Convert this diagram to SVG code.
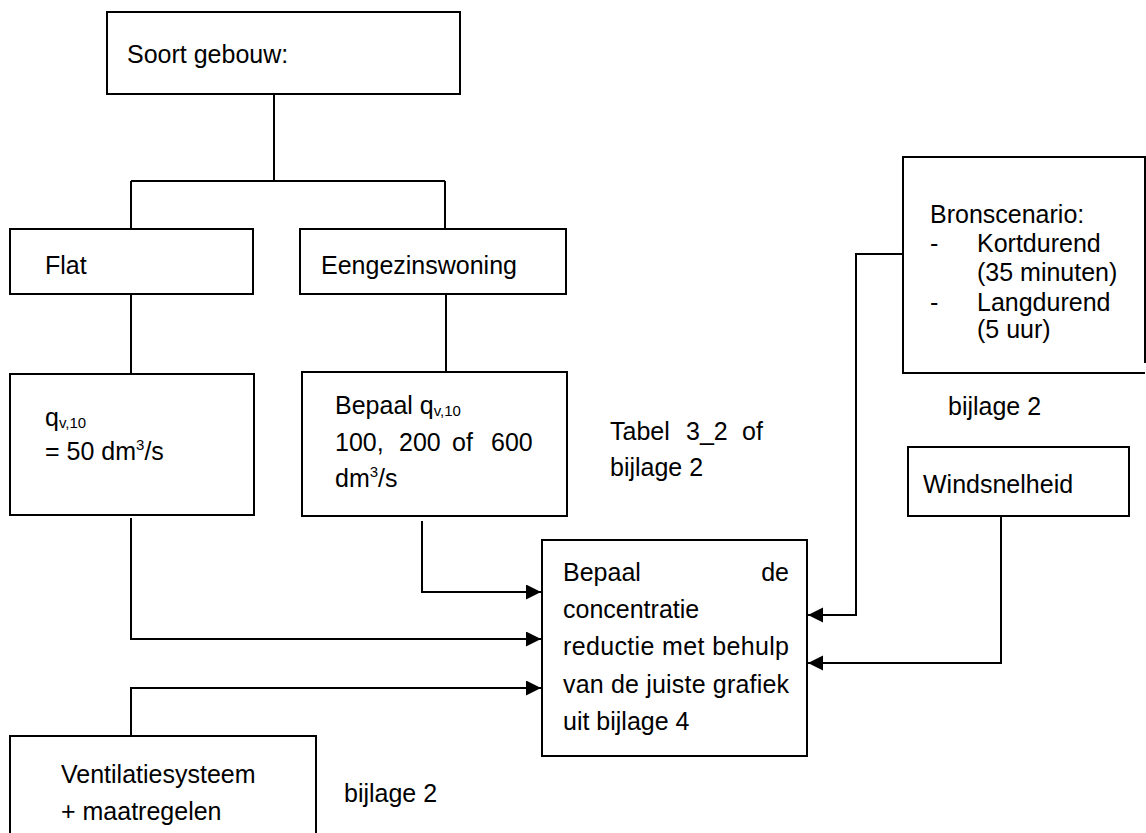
<svg xmlns="http://www.w3.org/2000/svg" width="1146" height="833" viewBox="0 0 1146 833">
<style>
.box{fill:#fff;stroke:#000;stroke-width:2}
.ln{fill:none;stroke:#000;stroke-width:2}
text{font-family:"Liberation Sans",Arial,sans-serif;font-size:25px;fill:#000}
.sub{font-size:15px}
</style>
<defs>
<marker id="arr" markerUnits="userSpaceOnUse" markerWidth="16" markerHeight="16" refX="15" refY="7.5" orient="auto">
<path d="M0,0 L15,7.5 L0,15 z" fill="#000"/>
</marker>
</defs>
<rect width="1146" height="833" fill="#fff"/>
<g id="connectors">
<path class="ln" d="M274,94 V181 M131,181 H445 M131,181 V229 M445,181 V229"/>
<path class="ln" d="M131,294 V374"/>
<path class="ln" d="M446,294 V376"/>
<path class="ln" d="M131,518 V639 H541" marker-end="url(#arr)"/>
<path class="ln" d="M422,521 V592 H541" marker-end="url(#arr)"/>
<path class="ln" d="M131,736 V688 H541" marker-end="url(#arr)"/>
<path class="ln" d="M903,254 H856 V615 H808" marker-end="url(#arr)"/>
<path class="ln" d="M1001,516 V663 H808" marker-end="url(#arr)"/>
</g>
<g id="soort">
<rect class="box" x="107" y="12" width="353" height="82"/>
<text x="127" y="63">Soort gebouw:</text>
</g>
<g id="flat">
<rect class="box" x="10" y="229" width="243" height="65"/>
<text x="45" y="274">Flat</text>
</g>
<g id="eengezinswoning">
<rect class="box" x="300" y="229" width="266" height="65"/>
<text x="321" y="274">Eengezinswoning</text>
</g>
<g id="flat-q">
<rect class="box" x="10" y="374" width="244" height="141"/>
<text x="45" y="426">q<tspan class="sub" dy="2">v,10</tspan></text>
<text x="45" y="460">= 50 dm<tspan class="sub" dy="-10">3</tspan><tspan dy="10">/s</tspan></text>
</g>
<g id="bepaal-q">
<rect class="box" x="302" y="372" width="265" height="144"/>
<text x="335" y="414">Bepaal q<tspan class="sub" dy="2">v,10</tspan></text>
<text x="335" y="451">100,<tspan x="399">200</tspan><tspan x="452">of</tspan><tspan x="491">600</tspan></text>
<text x="335" y="487">dm<tspan class="sub" dy="-10">3</tspan><tspan dy="10">/s</tspan></text>
</g>
<g id="tabel-label">
<text x="610" y="440">Tabel<tspan x="686">3_2</tspan><tspan x="742">of</tspan></text>
<text x="610" y="476">bijlage 2</text>
</g>
<g id="bronscenario">
<path class="box" d="M1145,363 V157 H903 V373 H1145"/>
<text x="930" y="223">Bronscenario:</text>
<text x="930" y="252">-<tspan x="977">Kortdurend</tspan></text>
<text x="977" y="281">(35 minuten)</text>
<text x="930" y="311">-<tspan x="977">Langdurend</tspan></text>
<text x="977" y="338">(5 uur)</text>
</g>
<g id="bron-label">
<text x="948" y="415">bijlage 2</text>
</g>
<g id="windsnelheid">
<rect class="box" x="908" y="447" width="221" height="69"/>
<text x="923" y="493">Windsnelheid</text>
</g>
<g id="concentratie">
<rect class="box" x="542" y="540" width="265" height="216"/>
<text x="563" y="581">Bepaal<tspan x="789" text-anchor="end">de</tspan></text>
<text x="563" y="618">concentratie</text>
<text x="563" y="655" textLength="226" lengthAdjust="spacing">reductie met behulp</text>
<text x="563" y="693" textLength="226" lengthAdjust="spacing">van de juiste grafiek</text>
<text x="563" y="730">uit bijlage 4</text>
</g>
<g id="ventilatie">
<rect class="box" x="10" y="736" width="306" height="110"/>
<text x="61" y="783">Ventilatiesysteem</text>
<text x="61" y="820">+ maatregelen</text>
</g>
<g id="vent-label">
<text x="344" y="802">bijlage 2</text>
</g>
</svg>
